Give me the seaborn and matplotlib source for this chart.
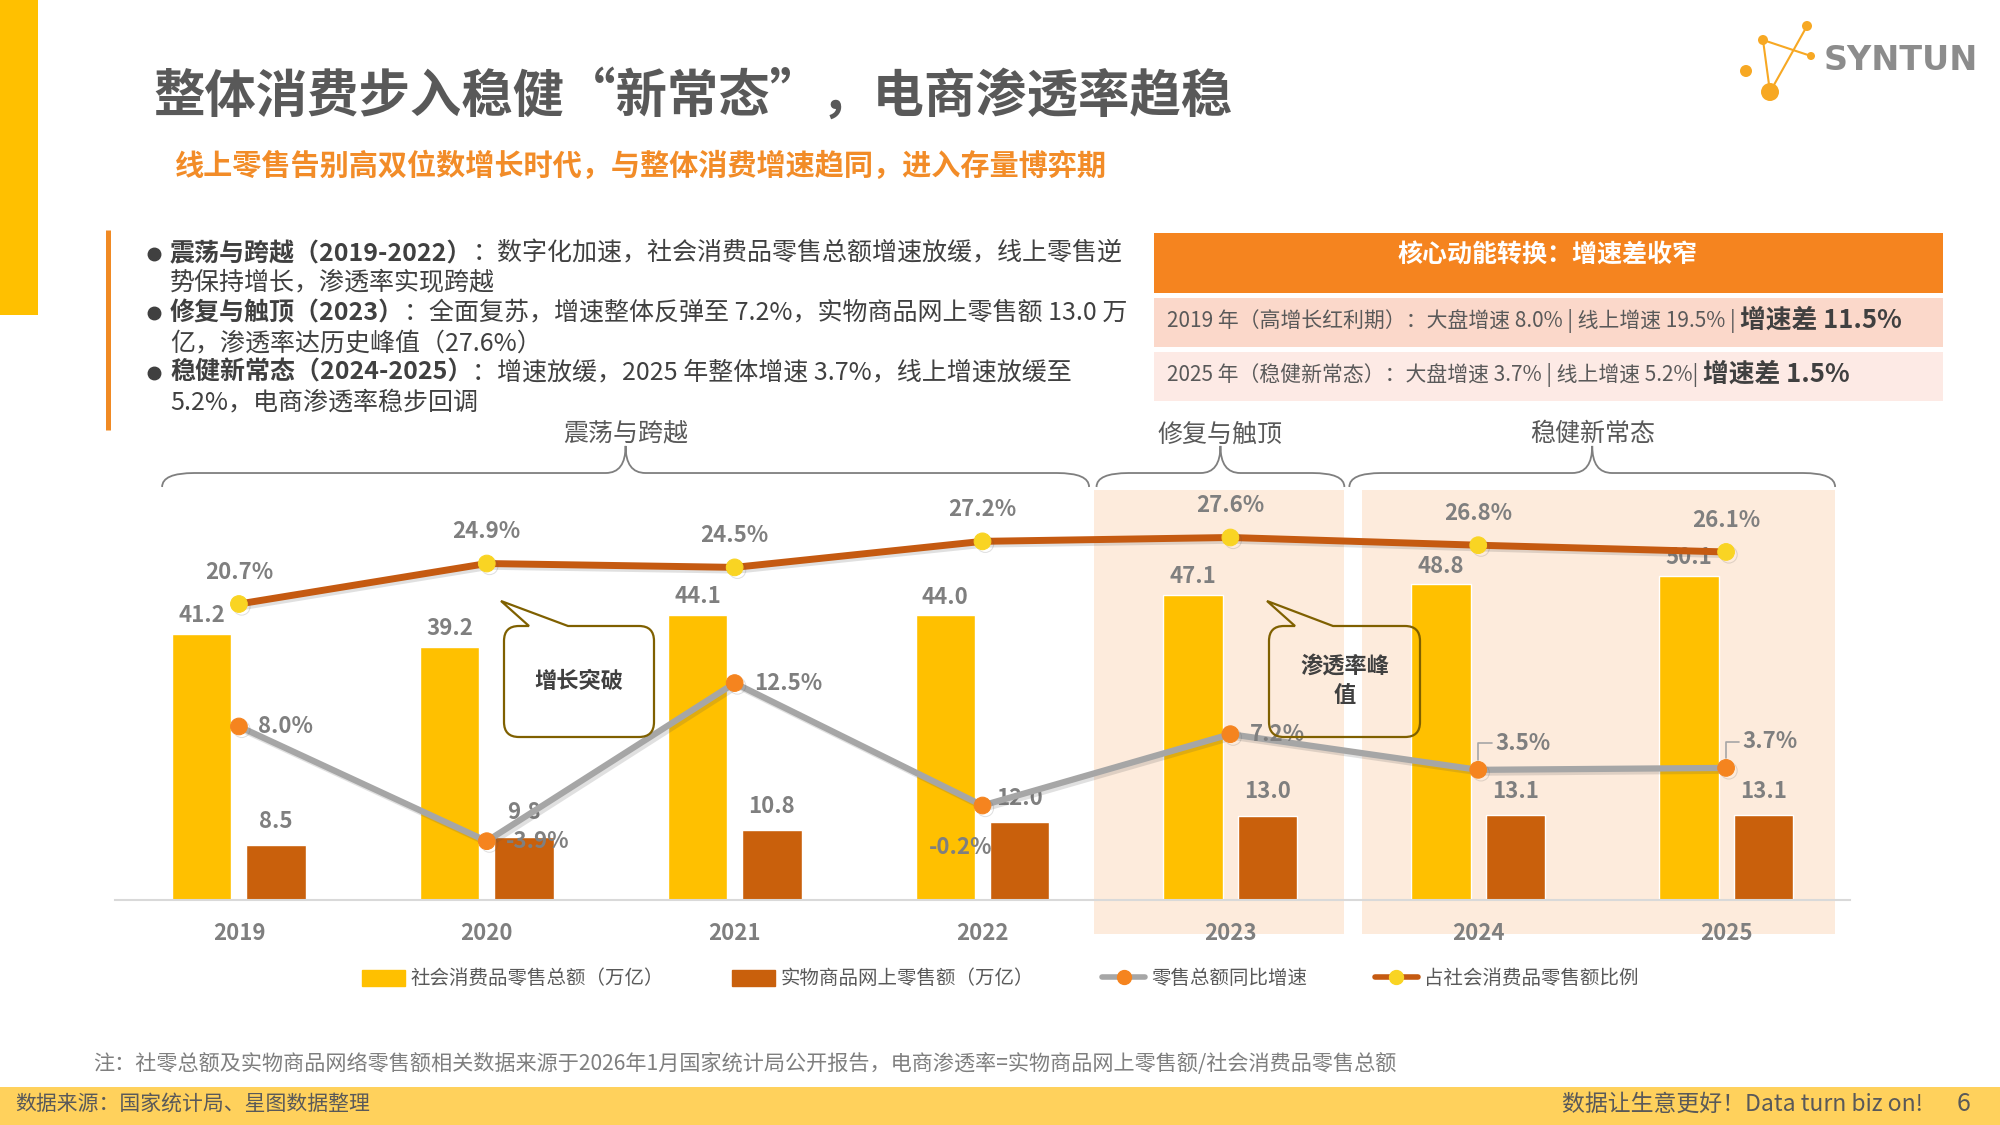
import numpy as np
import pandas as pd
import matplotlib
matplotlib.use('Agg')
import matplotlib.pyplot as plt
import matplotlib.patches as mpatches
import matplotlib.patheffects as pe
from matplotlib.path import Path
from matplotlib.lines import Line2D
import seaborn as sns

# ---- data ----
years = ['2019', '2020', '2021', '2022', '2023', '2024', '2025']
retail_total = [41.2, 39.2, 44.1, 44.0, 47.1, 48.8, 50.1]     # 社会消费品零售总额（万亿）
online_goods = [8.5, 9.8, 10.8, 12.0, 13.0, 13.1, 13.1]       # 实物商品网上零售额（万亿）
retail_growth = [8.0, -3.9, 12.5, -0.2, 7.2, 3.5, 3.7]         # 零售总额同比增速 %
online_share = [20.7, 24.9, 24.5, 27.2, 27.6, 26.8, 26.1]      # 占社会消费品零售额比例 %

series_names = ['社会消费品零售总额（万亿）', '实物商品网上零售额（万亿）',
                '零售总额同比增速', '占社会消费品零售额比例']
stage_names = ['震荡与跨越', '修复与触顶', '稳健新常态']

title = '整体消费步入稳健“新常态”，电商渗透率趋稳'
subtitle = '线上零售告别高双位数增长时代，与整体消费增速趋同，进入存量博弈期'
bullets = [
    ('震荡与跨越（2019-2022）', '：数字化加速，社会消费品零售总额增速放缓，线上零售逆'),
    ('', '势保持增长，渗透率实现跨越'),
    ('修复与触顶（2023）', '：全面复苏，增速整体反弹至 7.2%，实物商品网上零售额 13.0 万'),
    ('', '亿，渗透率达历史峰值（27.6%）'),
    ('稳健新常态（2024-2025）', '：增速放缓，2025 年整体增速 3.7%，线上增速放缓至'),
    ('', '5.2%，电商渗透率稳步回调'),
]
box_title = '核心动能转换：增速差收窄'
box_rows = [
    ('2019 年（高增长红利期）：大盘增速 8.0% | 线上增速 19.5% | ', '增速差 11.5%'),
    ('2025 年（稳健新常态）：大盘增速 3.7% | 线上增速 5.2%| ', '增速差 1.5%'),
]
callouts = ['增长突破', '渗透率峰\n值']
note = '注：社零总额及实物商品网络零售额相关数据来源于2026年1月国家统计局公开报告，电商渗透率=实物商品网上零售额/社会消费品零售总额'
source = '数据来源：国家统计局、星图数据整理'
slogan = '数据让生意更好！Data turn biz on!'

# ---- layout / style ----
W, H = 2000, 1125
YELLOW = '#FFC000'
BROWN = '#C9600C'
LINE_BROWN = '#C55A11'
GOLD = '#F9D423'
ORANGE = '#F5841F'
GRAY_LINE = '#A6A6A6'
LABEL = '#7F7F7F'
DARK = '#404040'
SHADE = '#FDEBDC'

brace_spans = [(-0.31, 3.43), (3.46, 4.46), (4.48, 6.44)]
shade_spans = [(3.45, 4.46), (4.53, 6.44)]
growth_offsets = [(14, 0, 'left'), (14, 0, 'left'), (14, 0, 'left'), (-16, -30, 'center'),
                  (14, 0, 'left'), (12, 19, 'left'), (12, 19, 'left')]
growth_leader = [False, False, False, False, False, True, True]

sns.set_theme(style='white')
plt.rcParams['font.family'] = ['Noto Sans CJK SC', 'DejaVu Sans']

fig = plt.figure(figsize=(20, 11.25), dpi=100)
fig.patch.set_facecolor('white')

# ---- main chart ----
ax = fig.add_axes([115 / W, 225 / H, 1735 / W, 430 / H])
ax.patch.set_visible(False)

bars = pd.DataFrame({
    'year': years * 2,
    'value': retail_total + online_goods,
    'series': [series_names[0]] * len(years) + [series_names[1]] * len(years),
})
sns.barplot(data=bars, x='year', y='value', hue='series', palette=[YELLOW, BROWN],
            width=0.6, gap=0.2, saturation=1, ax=ax, legend=False, zorder=2)
for cont, pad in zip(ax.containers, [5, 9]):
    ax.bar_label(cont, fmt='%.1f', padding=pad, color=LABEL, fontsize=16, fontweight='bold')

for x0, x1 in shade_spans:
    ax.add_patch(mpatches.Rectangle((x0, -0.079), x1 - x0, 1.032, transform=ax.get_xaxis_transform(),
                                    facecolor=SHADE, edgecolor='none', zorder=0, clip_on=False))

ax2 = ax.twinx()
pos = np.arange(len(years))
shadow = [pe.SimpleLineShadow(offset=(2, -2), alpha=0.18, shadow_color='#555555'), pe.Normal()]
sns.lineplot(x=pos, y=online_share, ax=ax2, color=LINE_BROWN, linewidth=5, marker='o', markersize=12,
             markerfacecolor=GOLD, markeredgecolor=GOLD, path_effects=shadow)
sns.lineplot(x=pos, y=retail_growth, ax=ax2, color=GRAY_LINE, linewidth=4.5, marker='o', markersize=12,
             markerfacecolor=ORANGE, markeredgecolor=ORANGE, path_effects=shadow)

for i, v in enumerate(online_share):
    ax2.annotate(f'{v:.1f}%', (i, v), xytext=(0, 23), textcoords='offset points', ha='center',
                 va='center', fontsize=16, fontweight='bold', color=LABEL)
for i, v in enumerate(retail_growth):
    dx, dy, ha = growth_offsets[i]
    kw = {}
    if growth_leader[i]:
        kw['arrowprops'] = dict(arrowstyle='-', color=GRAY_LINE, lw=1.2, shrinkA=0, shrinkB=7,
                                connectionstyle='angle,angleA=180,angleB=90,rad=0', relpos=(0, 0.5))
    ax2.annotate(f'{v:.1f}%', (i, v), xytext=(dx, dy), textcoords='offset points', ha=ha,
                 va='center', fontsize=16, fontweight='bold', color=LABEL, **kw)

ax.set_ylim(0, 66.5)
ax2.set_ylim(-10, 34.6)
ax.set_xlim(-0.5, len(years) - 0.5)
for a in (ax, ax2):
    a.set_xlabel('')
    a.set_ylabel('')
    a.set_yticks([])
sns.despine(ax=ax, left=True)
sns.despine(ax=ax2, left=True, right=True, bottom=True)
ax.spines['bottom'].set_color('#D9D9D9')
ax.spines['bottom'].set_linewidth(1.5)
ax.tick_params(axis='x', which='major', length=0, pad=16, labelsize=16, labelcolor=LABEL)
ax.set_xticks(np.arange(-0.5, len(years), 1), minor=True)
ax.tick_params(axis='x', which='minor', length=10, color='#D9D9D9', width=1.5)
for t in ax.get_xticklabels():
    t.set_fontweight('bold')

# stage braces
def brace(a, x0, x1, y_end=0.9605, y_mid=0.993, y_tip=1.056, r=0.13, t=0.08):
    xm = (x0 + x1) / 2
    verts = [(x0, y_end), (x0, y_mid), (x0 + r, y_mid), (xm - t, y_mid), (xm, y_mid), (xm, y_tip),
             (xm, y_mid), (xm + t, y_mid), (x1 - r, y_mid), (x1, y_mid), (x1, y_end)]
    codes = [Path.MOVETO, Path.CURVE3, Path.CURVE3, Path.LINETO, Path.CURVE3, Path.CURVE3,
             Path.CURVE3, Path.CURVE3, Path.LINETO, Path.CURVE3, Path.CURVE3]
    a.add_patch(mpatches.PathPatch(Path(verts, codes), transform=a.get_xaxis_transform(),
                                   fill=False, edgecolor='#7F7F7F', lw=1.3, clip_on=False))

for (x0, x1), name in zip(brace_spans, stage_names):
    brace(ax, x0, x1)
    ax.text((x0 + x1) / 2, 1.083, name, transform=ax.get_xaxis_transform(), ha='center',
            va='center', fontsize=18, color='#595959')

# ---- overlay in pixel coordinates for slide decorations ----
bg = fig.add_axes([0, 0, 1, 1])
bg.set_xlim(0, W)
bg.set_ylim(H, 0)
bg.axis('off')
bg.patch.set_visible(False)

bg.add_patch(mpatches.Rectangle((0, 0), 38, 315, facecolor=YELLOW, edgecolor='none'))
bg.text(153, 96, title, fontsize=37, fontweight='bold', color='#595959', va='center', ha='left')
bg.text(175, 166, subtitle, fontsize=21, fontweight='bold', color='#F28C28', va='center', ha='left')

# logo
dots = [(1807, 26, 5), (1763, 40, 5), (1811, 56, 4), (1746, 71, 6), (1770, 92, 9)]
for a_, b_ in [(1, 2), (0, 4), (1, 4)]:
    bg.plot([dots[a_][0], dots[b_][0]], [dots[a_][1], dots[b_][1]], color='#F7A823', lw=1.5)
for x, y, r in dots:
    bg.add_patch(mpatches.Circle((x, y), r, facecolor='#F7A823', edgecolor='none'))
bg.text(1824, 61, 'SYNTUN', fontsize=24, fontweight='bold', color='#8C8C8C', va='center',
        ha='left', family='DejaVu Sans')

# bullet block
bg.plot([108, 108], [230, 430], color='#F08A24', lw=3.6, solid_capstyle='butt')
line_y = [253, 283, 312, 343, 372, 402]
for (bold, rest), y in zip(bullets, line_y):
    if bold:
        bg.plot(154, y + 1, 'o', ms=9, color=DARK)
        t1 = bg.text(170, y + 13, bold, fontsize=18, fontweight='bold', color=DARK, va='bottom', ha='left')
        bg.annotate(rest, xy=(1, 0), xycoords=t1, va='bottom', ha='left', fontsize=18, color=DARK)
    else:
        bg.text(170, y + 13, rest, fontsize=18, color=DARK, va='bottom', ha='left')

# right summary box
bg.add_patch(mpatches.Rectangle((1154, 233), 789, 60, facecolor='#F5841F', edgecolor='none'))
bg.text(1548, 256, box_title, fontsize=18, fontweight='bold', color='white', ha='center', va='center')
for (plain, strong), y0, fc in zip(box_rows, [298, 352], ['#FBD8CA', '#FDEAE5']):
    bg.add_patch(mpatches.Rectangle((1154, y0), 789, 49, facecolor=fc, edgecolor='none'))
    t1 = bg.text(1167, y0 + 23, plain, fontsize=15, color='#595959', ha='left', va='center')
    bg.annotate(strong, xy=(1, 0.55), xycoords=t1, fontsize=18.5, fontweight='bold', color=DARK,
                ha='left', va='center')

# callouts
def callout(x0, y0, x1, y1, base0, base1, tip, text, r=15):
    verts = [(base1, y0), (x1 - r, y0), (x1, y0), (x1, y0 + r), (x1, y1 - r), (x1, y1), (x1 - r, y1),
             (x0 + r, y1), (x0, y1), (x0, y1 - r), (x0, y0 + r), (x0, y0), (x0 + r, y0),
             (base0, y0), tip, (base1, y0)]
    codes = [Path.MOVETO, Path.LINETO, Path.CURVE3, Path.CURVE3, Path.LINETO, Path.CURVE3, Path.CURVE3,
             Path.LINETO, Path.CURVE3, Path.CURVE3, Path.LINETO, Path.CURVE3, Path.CURVE3,
             Path.LINETO, Path.LINETO, Path.CLOSEPOLY]
    bg.add_patch(mpatches.PathPatch(Path(verts, codes), fill=False, edgecolor='#7F6000', lw=1.6))
    bg.text((x0 + x1) / 2, (y0 + y1) / 2, text, fontsize=16, fontweight='bold', color=DARK,
            ha='center', va='center', linespacing=1.3)

callout(504, 626, 654, 737, 529, 568, (501, 601), callouts[0])
callout(1269, 626, 1420, 737, 1295, 1333, (1267, 601), callouts[1])

# legend
handles = [mpatches.Patch(color=YELLOW), mpatches.Patch(color=BROWN),
           Line2D([], [], color=GRAY_LINE, lw=4, marker='o', mfc=ORANGE, mec=ORANGE, ms=10),
           Line2D([], [], color=LINE_BROWN, lw=4, marker='o', mfc=GOLD, mec=GOLD, ms=10)]
fig.legend(handles, series_names, loc='center', bbox_to_anchor=(0.5, 1 - 979 / H), ncol=4,
           frameon=False, fontsize=14, labelcolor='#595959', handlelength=2.2, handleheight=0.9,
           handletextpad=0.3, columnspacing=3.5)

# footnote and footer
bg.text(93, 1064, note, fontsize=15.2, color=LABEL, ha='left', va='center')
bg.add_patch(mpatches.Rectangle((0, 1087), W, 38, facecolor='#FFD15C', edgecolor='none'))
bg.text(15, 1104, source, fontsize=15, color='#595959', ha='left', va='center')
bg.text(1923, 1104, slogan, fontsize=16.5, color='#595959', ha='right', va='center')
bg.text(1964, 1104, '6', fontsize=18, color='#595959', ha='center', va='center')

fig.savefig('out.png', dpi=100)
